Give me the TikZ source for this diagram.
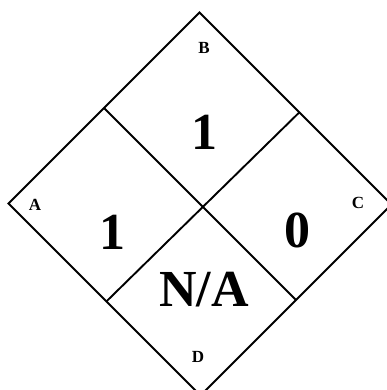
\documentclass[tikz,border=0pt]{standalone}
\usepackage{fontspec}
\setmainfont{Liberation Serif}
\usetikzlibrary{calc}
\begin{document}
\begin{tikzpicture}[x=1pt,y=-1pt,
  edge/.style={line width=1.9pt, line join=miter},
  small/.style={font=\fontsize{17}{17}\selectfont\bfseries, inner sep=0pt},
  big/.style={font=\fontsize{52}{52}\selectfont\bfseries, inner sep=0pt}]
\useasboundingbox (0,0) rectangle (387,390);
\clip (0,0) rectangle (387,390);
\coordinate (T) at (199.5,12.5);
\coordinate (L) at (8.5,203.5);
\coordinate (R) at (391.5,204.5);
\coordinate (D) at (200.5,395.5);
\coordinate (mAB) at ($(L)!0.5!(T)$);
\coordinate (mBC) at ($(T)!0.52!(R)$);
\coordinate (mCD) at ($(R)!0.5!(D)$);
\coordinate (mDA) at ($(D)!0.49!(L)$);
\draw[edge] (T) -- (R) -- (D) -- (L) -- cycle;
\draw[edge] (mAB) -- (mCD);
\draw[edge] (mBC) -- (mDA);
\node[small] (lb) at (204,48) {B};
\node[small] (la) at (35,205) {A};
\node[small] (lc) at (358,203) {C};
\node[small] (ld) at (198,357) {D};
\node[big] (v1) at (204,132) {1};
\node[big] (v2) at (112,232) {1};
\node[big] (v3) at (297,230) {0};
\node[big] (v4) at (204,290) {N/A};
\end{tikzpicture}
\end{document}
